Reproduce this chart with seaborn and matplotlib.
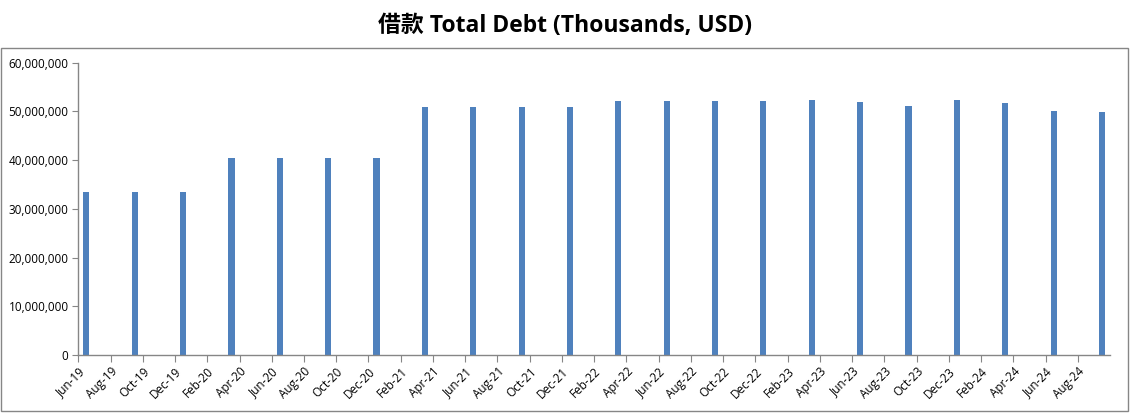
import pandas as pd
import matplotlib.pyplot as plt
import matplotlib.ticker as mticker
from matplotlib.patches import Rectangle
import seaborn as sns

# quarterly observations (Total Debt, thousands USD)
quarters = ['Jun-19', 'Sep-19', 'Dec-19', 'Mar-20', 'Jun-20', 'Sep-20', 'Dec-20',
            'Mar-21', 'Jun-21', 'Sep-21', 'Dec-21', 'Mar-22', 'Jun-22', 'Sep-22',
            'Dec-22', 'Mar-23', 'Jun-23', 'Sep-23', 'Dec-23', 'Mar-24', 'Jun-24', 'Sep-24']
total_debt = [33500000, 33500000, 33500000, 40450000, 40450000, 40450000, 40450000,
              50900000, 50900000, 50900000, 50900000, 52200000, 52200000, 52200000,
              52200000, 52350000, 51950000, 51100000, 52350000, 51700000, 50100000, 49900000]

# axis tick labels, every two months
tick_labels = ['Jun-19', 'Aug-19', 'Oct-19', 'Dec-19', 'Feb-20', 'Apr-20', 'Jun-20', 'Aug-20',
               'Oct-20', 'Dec-20', 'Feb-21', 'Apr-21', 'Jun-21', 'Aug-21', 'Oct-21', 'Dec-21',
               'Feb-22', 'Apr-22', 'Jun-22', 'Aug-22', 'Oct-22', 'Dec-22', 'Feb-23', 'Apr-23',
               'Jun-23', 'Aug-23', 'Oct-23', 'Dec-23', 'Feb-24', 'Apr-24', 'Jun-24', 'Aug-24']

sns.set_style('white')
plt.rcParams['font.family'] = ['Open Sans', 'Noto Sans CJK SC', 'DejaVu Sans']
plt.rcParams['text.color'] = 'black'
plt.rcParams['xtick.color'] = 'black'
plt.rcParams['ytick.color'] = 'black'


def month_index(labels):
    d = pd.DatetimeIndex(pd.to_datetime(list(labels), format='%b-%y'))
    return list((d.year - 2019) * 12 + d.month - 6)


df = pd.DataFrame({'quarter': quarters, 'debt': total_debt})
df['pos'] = [m + 0.5 for m in month_index(df['quarter'])]   # bar sits mid-month

fig = plt.figure(figsize=(11.31, 4.15), dpi=100)
ax = fig.add_axes([78.3 / 1131, 1 - 355 / 415, (1110 - 78.3) / 1131, (355 - 62.7) / 415])

sns.barplot(data=df, x='pos', y='debt', native_scale=True, width=0.127,
            color='#4F81BD', saturation=1, linewidth=0, ax=ax)

ax.set_xticks(month_index(tick_labels))
ax.set_xticklabels(tick_labels, rotation=45, ha='right', rotation_mode='anchor', fontsize=8.5)
ax.set_xlim(0, 64)
ax.set_ylim(0, 60000000)
ax.set_yticks(range(0, 60000001, 10000000))
ax.yaxis.set_major_formatter(mticker.StrMethodFormatter('{x:,.0f}'))
ax.tick_params(axis='y', labelsize=8.5, length=4, color='#868686', direction='out', left=True, pad=3)
ax.tick_params(axis='x', length=5, color='#868686', direction='out', bottom=True, pad=2)
ax.set_xlabel('')
ax.set_ylabel('')
for s in ['top', 'right']:
    ax.spines[s].set_visible(False)
for s in ['left', 'bottom']:
    ax.spines[s].set_color('#868686')
    ax.spines[s].set_linewidth(1)

fig.text(0.5, 1 - 26 / 415, '借款 Total Debt (Thousands, USD)', ha='center', va='center',
         fontsize=16.5, fontweight='bold', color='black')

fig.patches.append(Rectangle((1 / 1131, 4 / 415), 1127 / 1131, (411 - 48) / 415,
                             transform=fig.transFigure, fill=False,
                             edgecolor='#868686', linewidth=1))

fig.savefig('out.png', dpi=100)
